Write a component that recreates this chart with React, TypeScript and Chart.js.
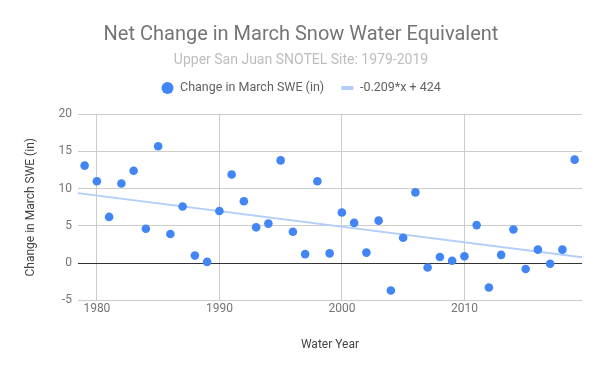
import React, { useEffect, useRef } from "react";
import { Chart, registerables } from "chart.js";

Chart.register(...registerables);

const titleText = "Net Change in March Snow Water Equivalent";
const subtitleText = "Upper San Juan SNOTEL Site: 1979-2019";
const seriesLabel = "Change in March SWE (in)";
const trendLabel = "-0.209*x + 424";
const xTitle = "Water Year";
const yTitle = "Change in March SWE (in)";

const years = [
  1979, 1980, 1981, 1982, 1983, 1984, 1985, 1986, 1987, 1988, 1989, 1990, 1991, 1992,
  1993, 1994, 1995, 1996, 1997, 1998, 1999, 2000, 2001, 2002, 2003, 2004, 2005, 2006,
  2007, 2008, 2009, 2010, 2011, 2012, 2013, 2014, 2015, 2016, 2017, 2018, 2019,
];
const sweChange = [
  13.1, 11.0, 6.2, 10.7, 12.4, 4.6, 15.7, 3.9, 7.6, 1.0, 0.15, 7.0, 11.9, 8.3,
  4.8, 5.3, 13.8, 4.2, 1.2, 11.0, 1.3, 6.8, 5.4, 1.4, 5.7, -3.7, 3.4, 9.5,
  -0.6, 0.8, 0.3, 0.9, 5.1, -3.3, 1.1, 4.5, -0.8, 1.8, -0.1, 1.8, 13.9,
];
const xTicks = [1980, 1990, 2000, 2010];
const yTicks = [-5, 0, 5, 10, 15, 20];
const xRange = [1978.45, 2019.6];

const legendGap = {
  id: "legendGap",
  beforeLayout(chart: any) {
    const lg = chart.legend;
    if (lg && !lg._patched) {
      const orig = lg.fit;
      lg.fit = function (this: any) {
        orig.call(this);
        this.height += 6;
      };
      lg._patched = true;
    }
  },
  afterLayout(chart: any) {
    const lg = chart.legend;
    if (lg) {
      lg.top -= 4;
      lg.bottom -= 4;
    }
  },
};

export default function App() {
  const ref = useRef<HTMLCanvasElement>(null);
  useEffect(() => {
    const n = years.length;
    const mx = years.reduce((a, b) => a + b, 0) / n;
    const my = sweChange.reduce((a, b) => a + b, 0) / n;
    let sxy = 0, sxx = 0;
    for (let i = 0; i < n; i++) {
      sxy += (years[i] - mx) * (sweChange[i] - my);
      sxx += (years[i] - mx) * (years[i] - mx);
    }
    const slope = sxy / sxx;
    const icpt = my - slope * mx;
    const trend = xRange.map((x) => ({ x, y: slope * x + icpt }));
    const pts = years.map((x, i) => ({ x, y: sweChange[i] }));
    const font = "Roboto";
    const chart = new Chart(ref.current!, {
      type: "scatter",
      plugins: [legendGap],
      data: {
        datasets: [
          {
            label: seriesLabel,
            data: pts,
            backgroundColor: "#4285F4",
            borderColor: "#4285F4",
            pointRadius: 4.3,
            pointBorderWidth: 0,
          },
          {
            label: trendLabel,
            data: trend,
            showLine: true,
            borderColor: "#b3cefb",
            borderWidth: 2,
            pointRadius: 0,
          } as any,
        ],
      },
      options: {
        responsive: false,
        animation: false,
        layout: { padding: { left: 20, right: 18, top: 0, bottom: 15 } },
        plugins: {
          tooltip: { enabled: false },
          title: {
            display: true,
            text: titleText,
            color: "#757575",
            font: { family: font, size: 20, weight: "normal" },
            padding: { top: 23, bottom: 5 },
          },
          subtitle: {
            display: true,
            text: subtitleText,
            color: "#bdbdbd",
            font: { family: font, size: 14, weight: "normal" },
            padding: { top: 0, bottom: 0 },
          },
          legend: {
            display: true,
            labels: {
              usePointStyle: true,
              boxWidth: 12.5,
              boxHeight: 8.5,
              padding: 17,
              color: "#616161",
              font: { family: font, size: 12.5 },
              generateLabels: () => [
                {
                  text: seriesLabel,
                  fillStyle: "#4285F4",
                  strokeStyle: "#4285F4",
                  lineWidth: 0,
                  pointStyle: "circle",
                  datasetIndex: 0,
                  fontColor: "#616161",
                } as any,
                {
                  text: trendLabel,
                  fillStyle: "#b3cefb",
                  strokeStyle: "#b3cefb",
                  lineWidth: 4,
                  pointStyle: "line",
                  datasetIndex: 1,
                  fontColor: "#616161",
                } as any,
              ],
            },
          },
        },
        scales: {
          x: {
            type: "linear",
            min: xRange[0],
            max: xRange[1],
            afterBuildTicks: (s: any) => {
              s.ticks = xTicks.map((v) => ({ value: v }));
            },
            ticks: {
              color: "#757575",
              font: { family: font, size: 12 },
              padding: 2,
              callback: (v: any) => String(v),
            },
            grid: { color: "#cccccc", drawTicks: false },
            border: { display: false },
            title: {
              display: true,
              text: xTitle,
              color: "#444444",
              font: { family: font, size: 12 },
              padding: { top: 19 },
            },
          },
          y: {
            min: -5,
            max: 20,
            afterBuildTicks: (s: any) => {
              s.ticks = yTicks.map((v) => ({ value: v }));
            },
            ticks: {
              color: "#757575",
              font: { family: font, size: 12 },
              padding: 6,
            },
            grid: {
              color: (c: any) => (c.tick && c.tick.value === 0 ? "#333333" : "#cccccc"),
              drawTicks: false,
            },
            border: { display: false },
            title: {
              display: true,
              text: yTitle,
              color: "#444444",
              font: { family: font, size: 12 },
              padding: { bottom: 14 },
            },
          },
        },
      },
    });
    return () => chart.destroy();
  }, []);
  return (
    <div style={{ position: "absolute", left: 0, top: 0, width: 600, height: 371, background: "#fff" }}>
      <canvas ref={ref} width={600} height={371} />
    </div>
  );
}
